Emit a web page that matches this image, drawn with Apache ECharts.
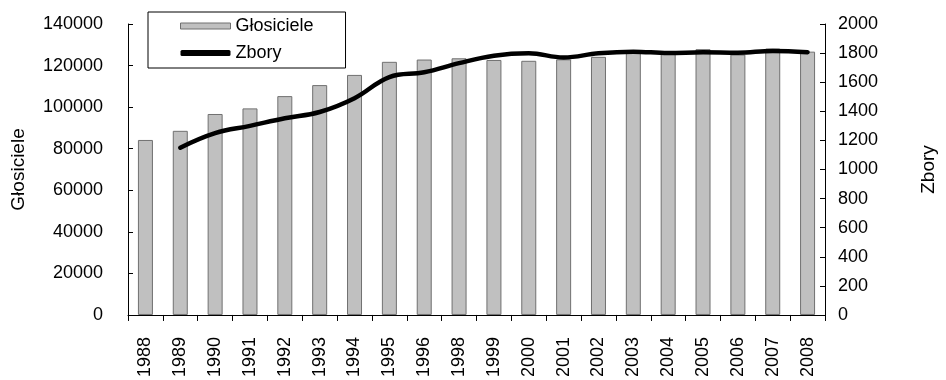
<!DOCTYPE html>
<html><head><meta charset="utf-8">
<script src="https://cdn.jsdelivr.net/npm/echarts@6/dist/echarts.min.js"></script>
<style>html,body{margin:0;padding:0;background:#fff}#c{width:946px;height:380px}</style>
</head><body><div id="c"></div>
<script>
const years = ['1988','1989','1990','1991','1992','1993','1994','1995','1996','1998','1999','2000','2001','2002','2003','2004','2005','2006','2007','2008'];
const glosiciele = [84200,88600,96700,99400,105300,110600,115500,121800,122900,123500,122700,122300,123000,124200,126500,127000,127900,125300,128200,126700];
const zbory = [null,1150,1250,1300,1352,1395,1490,1635,1668,1731,1782,1799,1770,1799,1810,1800,1806,1803,1815,1806];
const leftTicks = {min:0, max:140000, interval:20000};
const rightTicks = {min:0, max:2000, interval:200};

const FONT = 'Liberation Sans, Arial, sans-serif';
const FS = 18;
const chart = echarts.init(document.getElementById('c'), null, {renderer:'canvas'});
chart.setOption({
  animation:false,
  backgroundColor:'#fff',
  textStyle:{fontFamily:FONT, color:'#000'},
  grid:{left:128, right:119, top:24, bottom:64, containLabel:false},
  legend:{
    orient:'vertical', left:148, top:12,
    borderColor:'#000', borderWidth:1, borderRadius:0,
    padding:[5,32,6,32], itemGap:9, itemWidth:50, itemHeight:6,
    textStyle:{fontFamily:FONT, fontSize:FS, color:'#000'},
    data:[
      {name:'Głosiciele', icon:'rect', itemStyle:{color:'#c0c0c0', borderColor:'#707070', borderWidth:1}},
      {name:'Zbory', icon:'roundRect', itemStyle:{color:'#000', borderWidth:0}}
    ]
  },
  xAxis:{
    type:'category', data:years, boundaryGap:true,
    axisLine:{lineStyle:{color:'#000', width:1}},
    axisTick:{show:true, alignWithLabel:false, length:6, lineStyle:{color:'#000'}},
    axisLabel:{rotate:90, margin:22, fontSize:FS, color:'#000', fontFamily:FONT, interval:0}
  },
  yAxis:[
    {type:'value', min:leftTicks.min, max:leftTicks.max, interval:leftTicks.interval,
     name:'Głosiciele', nameLocation:'middle', nameGap:100, nameRotate:90,
     nameTextStyle:{fontSize:19, color:'#000', fontFamily:FONT},
     axisLine:{show:true, lineStyle:{color:'#000'}},
     axisTick:{show:true, inside:true, length:5, lineStyle:{color:'#000'}},
     axisLabel:{margin:25, fontSize:FS, color:'#000', fontFamily:FONT, formatter:v=>String(v)},
     splitLine:{show:false}},
    {type:'value', min:rightTicks.min, max:rightTicks.max, interval:rightTicks.interval,
     name:'Zbory', nameLocation:'middle', nameGap:94, nameRotate:90,
     nameTextStyle:{fontSize:19, color:'#000', fontFamily:FONT},
     axisLine:{show:true, lineStyle:{color:'#000'}},
     axisTick:{show:true, inside:true, length:5, lineStyle:{color:'#000'}},
     axisLabel:{margin:13, fontSize:FS, color:'#000', fontFamily:FONT, formatter:v=>String(v)},
     splitLine:{show:false}}
  ],
  series:[
    {name:'Głosiciele', type:'bar', data:glosiciele, yAxisIndex:0, barWidth:15,
     itemStyle:{color:'#c0c0c0', borderColor:'#707070', borderWidth:1}},
    {name:'Zbory', type:'line', data:zbory, yAxisIndex:1, smooth:0.4, symbol:'none', showSymbol:false,
     connectNulls:false,
     lineStyle:{color:'#000', width:4.5, cap:'round', join:'round'},
     itemStyle:{color:'#000'}}
  ]
});
</script></body></html>
